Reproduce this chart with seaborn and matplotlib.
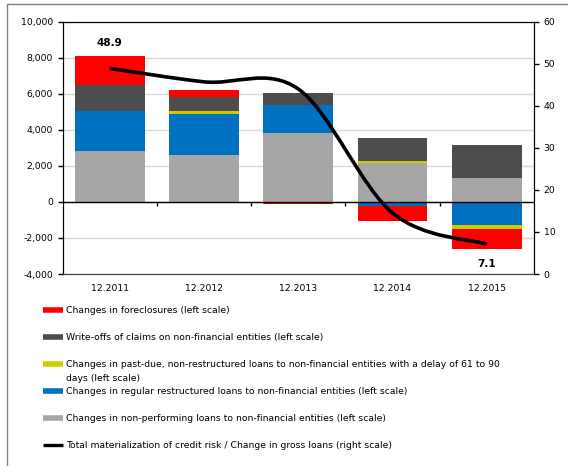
import numpy as np
import pandas as pd
import matplotlib
matplotlib.use('Agg')
import matplotlib.pyplot as plt
from matplotlib.lines import Line2D
from matplotlib.patches import Rectangle, PathPatch
from matplotlib.path import Path
from matplotlib.ticker import FuncFormatter, MultipleLocator
import seaborn as sns

# Data
periods = ['12.2011', '12.2012', '12.2013', '12.2014', '12.2015']
npl = [2800, 2600, 3830, 2170, 1330]
restructured = [2260, 2300, 1570, -200, -1300]
past_due = [-80, 170, -60, 75, -185]
write_offs = [1430, 740, 670, 1280, 1850]
foreclosures = [1610, 390, -80, -850, -1130]
risk_ratio = [48.9, 45.7, 44.0, 14.5, 7.1]

labels = [
    'Changes in foreclosures (left scale)',
    'Write-offs of claims on non-financial entities (left scale)',
    'Changes in past-due, non-restructured loans to non-financial entities with a delay of 61 to 90',
    'Changes in regular restructured loans to non-financial entities (left scale)',
    'Changes in non-performing loans to non-financial entities (left scale)',
    'Total materialization of credit risk / Change in gross loans (right scale)',
]

sns.set_style('white')
plt.rcParams['font.family'] = ['DejaVu Sans']
plt.rcParams['text.color'] = 'black'
plt.rcParams['xtick.color'] = 'black'
plt.rcParams['ytick.color'] = 'black'
FS = 6.7

fig = plt.figure(figsize=(5.68, 4.66), dpi=100)
ax = fig.add_axes([0.1104, 0.412, 0.8296, 0.5414])

# stacked bars: overlay cumulative sums, top layer first
layers = [npl, restructured, past_due, write_offs, foreclosures]
layer_colors = ['#a6a6a6', '#0070c0', '#cccc00', '#4d4d4d', '#ff0000']
arr = np.array(layers, dtype=float)
pos = np.clip(arr, 0, None).cumsum(axis=0)
neg = np.clip(arr, None, 0).cumsum(axis=0)
for i in range(len(layers) - 1, -1, -1):
    for stack in (pos, neg):
        df = pd.DataFrame({'period': periods, 'value': stack[i]})
        sns.barplot(data=df, x='period', y='value', color=layer_colors[i],
                    saturation=1, width=0.74, linewidth=0, errorbar=None, ax=ax)

ax.set_xlim(-0.5, 4.5)
ax.set_ylim(-4000, 10000)
ax.yaxis.set_major_locator(MultipleLocator(2000))
ax.yaxis.set_major_formatter(FuncFormatter(lambda v, p: f'{v:,.0f}'))
ax.set_xlabel('')
ax.set_ylabel('')
ax.yaxis.grid(True, color='#d9d9d9', lw=1)
ax.set_axisbelow(True)
ax.axhline(0, color='black', lw=1)
ax.tick_params(axis='x', length=0, pad=7, labelsize=FS)
ax.tick_params(axis='y', left=True, length=3.5, width=1, direction='out', pad=3.5, labelsize=FS)
for s in ['left', 'top']:
    ax.spines[s].set_color('black')
ax.spines['bottom'].set_color('#404040')

# small ticks between categories on the zero line
sec = ax.secondary_xaxis(4000 / 14000)
sec.set_xticks([0.5, 1.5, 2.5, 3.5])
sec.set_xticklabels([])
sec.tick_params(length=3, width=1, direction='out', color='black')
sec.spines['bottom'].set_visible(False)

# right axis: smoothed ratio line
ax2 = ax.twinx()
ax2.set_ylim(0, 60)
ax2.yaxis.set_major_locator(MultipleLocator(10))
ax2.tick_params(axis='y', right=True, length=3.5, width=1, direction='out', pad=3.5, labelsize=FS)
for s in ['left', 'right', 'top']:
    ax2.spines[s].set_color('black')
ax2.spines['bottom'].set_color('#404040')

pts = np.column_stack([np.arange(len(risk_ratio)), risk_ratio]).astype(float)
verts = [pts[0]]
codes = [Path.MOVETO]
n = len(pts)
for i in range(n - 1):
    p0 = pts[max(i - 1, 0)]
    p1 = pts[i]
    p2 = pts[i + 1]
    p3 = pts[min(i + 2, n - 1)]
    verts += [p1 + (p2 - p0) / 6, p2 - (p3 - p1) / 6, p2]
    codes += [Path.CURVE4] * 3
ax2.add_patch(PathPatch(Path(verts, codes), fill=False, lw=2.6, edgecolor='black',
                        capstyle='butt'))

ax2.text(0, 54.9, f'{risk_ratio[0]}', ha='center', va='center', fontsize=FS + 0.8, fontweight='bold')
ax2.text(4, 2.4, f'{risk_ratio[-1]}', ha='center', va='center', fontsize=FS + 0.8, fontweight='bold')

# legend
handle_colors = ['#ff0000', '#4d4d4d', '#cccc00', '#0070c0', '#a6a6a6']
handles = [Line2D([], [], color=c, lw=4, solid_capstyle='butt') for c in handle_colors]
handles.append(Line2D([], [], color='black', lw=2.4, solid_capstyle='butt'))
leg = fig.legend(handles, labels, loc='upper left', bbox_to_anchor=(0.0757, 0.343),
                 frameon=False, fontsize=FS, borderaxespad=0, borderpad=0,
                 handlelength=2.15, handletextpad=0.35, labelspacing=1.94)

fig.canvas.draw()
bb = leg.get_texts()[2].get_window_extent()
fig.text(bb.x0 / fig.bbox.width, (bb.y0 - 14) / fig.bbox.height, 'days (left scale)',
         fontsize=FS, ha='left', va='bottom')

# outer frame
fig.add_artist(Rectangle((7 / 568, -0.05), 1.2, 1 - 4 / 466 + 0.05, transform=fig.transFigure,
                         fill=False, edgecolor='#808080', lw=1, clip_on=False))

fig.savefig('out.png', dpi=100)
